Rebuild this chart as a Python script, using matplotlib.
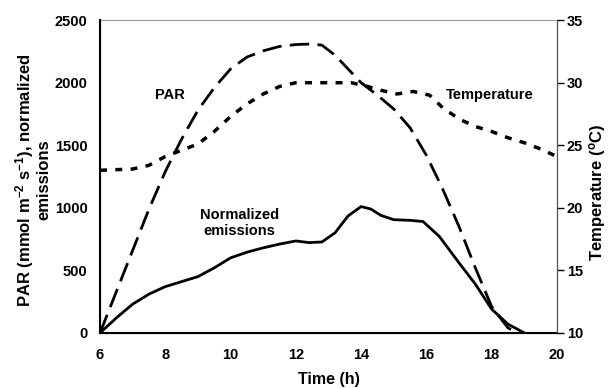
"""
PAR, temperature and normalized emissions over a day
"""
import matplotlib
matplotlib.use("Agg")
import matplotlib.pyplot as plt

plt.rcParams['font.family'] = ['Liberation Sans', 'DejaVu Sans']
plt.rcParams['font.weight'] = 'bold'
plt.rcParams['mathtext.fontset'] = 'custom'
plt.rcParams['mathtext.bf'] = 'Liberation Sans:bold'
plt.rcParams['mathtext.rm'] = 'Liberation Sans:bold'
plt.rcParams['mathtext.default'] = 'bf'

par_time = [6, 6.5, 7, 7.5, 8, 8.5, 9, 9.5, 10, 10.5, 11, 11.5, 12, 12.5, 12.8,
            13.2, 13.6, 14, 14.5, 15, 15.5, 16, 16.5, 17, 17.5, 18, 18.5, 18.8]
par = [0, 330, 660, 990, 1290, 1550, 1780, 1960, 2110, 2205, 2255, 2290, 2305, 2310, 2300,
       2220, 2110, 2000, 1900, 1790, 1640, 1420, 1150, 850, 520, 210, 40, 0]

temp_time = [6, 7, 7.5, 8, 8.5, 9, 9.5, 10, 10.5, 11, 11.5, 12, 13, 13.7, 14.2, 14.6,
             15.1, 15.6, 16.1, 16.5, 17, 17.5, 18, 18.5, 19, 19.5, 20]
temp = [23.0, 23.1, 23.4, 24.1, 24.6, 25.1, 26.1, 27.3, 28.3, 29.1, 29.7, 30.0, 30.0, 30.0,
        29.7, 29.4, 29.1, 29.3, 29.0, 28.0, 27.1, 26.5, 26.1, 25.6, 25.2, 24.7, 24.1]

em_time = [6, 6.5, 7, 7.5, 8, 8.5, 9, 9.5, 10, 10.5, 11, 11.5, 12, 12.4, 12.8,
           13.2, 13.6, 14, 14.3, 14.6, 15, 15.5, 15.9, 16.4, 17, 17.5, 18, 18.5, 19]
emissions = [0, 120, 230, 310, 370, 410, 450, 520, 600, 645, 680, 710, 735, 722, 727,
             800, 935, 1010, 990, 940, 905, 900, 890, 770, 560, 390, 190, 70, 0]


def show_day_plot():
    fig = plt.figure(figsize=(6.1, 3.88), dpi=100)
    ax = fig.add_axes([0.164, 0.142, 0.749, 0.806])
    ax.plot(par_time, par, color="black", lw=2, dashes=(7, 3))
    ax.plot(em_time, emissions, color="black", lw=2)
    ax.set_xlim(6, 20)
    ax.set_ylim(0, 2500)
    ax.set_xticks(range(6, 21, 2))
    ax.set_yticks(range(0, 2501, 500))
    ax.tick_params(axis="x", length=0, labelsize=10.5, pad=11)
    ax.tick_params(axis="y", length=0, labelsize=10.5, pad=9)
    ax.spines['top'].set_color("#999999")
    ax.spines['top'].set_linewidth(0.8)
    ax.spines['left'].set_linewidth(1.5)
    ax.spines['bottom'].set_linewidth(1.5)
    ax.set_xlabel("Time (h)", fontsize=11.5, fontweight="bold", va="center")
    ax.xaxis.set_label_coords(0.5, -0.150)
    ax.set_ylabel("PAR (mmol m$^{-2}$ s$^{-1}$), normalized\nemissions",
                  fontsize=12, fontweight="bold", linespacing=1.0, va="center")
    ax.yaxis.set_label_coords(-0.148, 0.489)

    ax2 = ax.twinx()
    ax2.plot(temp_time, temp, color="black", lw=2.5, dashes=(2, 2.4))
    ax2.set_ylim(10, 35)
    ax2.set_yticks(range(10, 36, 5))
    ax2.tick_params(length=5, width=1, labelsize=10.5, pad=2)
    ax2.spines['right'].set_color("#555555")
    ax2.spines['top'].set_visible(False)
    ax2.set_ylabel("Temperature ($^{o}$C)", fontsize=12, fontweight="bold", va="center")
    ax2.yaxis.set_label_coords(1.088, 0.45)

    ax.text(8.14, 1900, "PAR", fontsize=10.5, fontweight="bold", ha="center", va="center")
    ax.text(17.95, 1900, "Temperature", fontsize=10.5, fontweight="bold", ha="center", va="center")
    ax.text(10.26, 880, "Normalized\nemissions", fontsize=10.5, fontweight="bold",
            ha="center", va="center", linespacing=1.2)

    fig.savefig("out.png", dpi=100)


if __name__ == '__main__':
    show_day_plot()
